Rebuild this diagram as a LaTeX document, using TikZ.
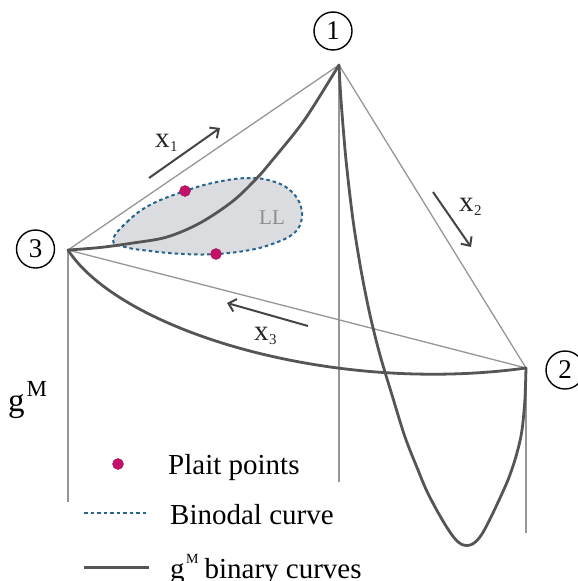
\documentclass[tikz,border=0pt]{standalone}
\usepackage{fontspec}
\setmainfont{Liberation Serif}
\usetikzlibrary{arrows.meta}
\definecolor{thinline}{RGB}{150,150,150}
\definecolor{thickline}{RGB}{85,85,85}
\definecolor{arrowcol}{RGB}{68,68,68}
\definecolor{binod}{RGB}{40,100,140}
\definecolor{llfill}{RGB}{218,220,223}
\definecolor{plait}{RGB}{196,16,104}
\definecolor{lltext}{RGB}{140,140,140}
\newcommand\xlab[1]{\fontsize{29}{29}\selectfont x\kern0.5pt\raisebox{-4pt}{\fontsize{15}{15}\selectfont #1}}
\tikzset{
  thin edge/.style={draw=thinline, line width=1.3pt},
  binary/.style={draw=thickline, line width=2.8pt, line cap=round, line join=round},
  binodal/.style={draw=binod, line width=2pt, dash pattern=on 3.5pt off 3pt},
  dirarrow/.style={draw=arrowcol, line width=2pt, -{Straight Barb[length=7pt,width=13pt]}},
  vnum/.style={circle, draw=black, line width=1.4pt, minimum size=38pt, inner sep=0pt, font=\fontsize{27}{27}\selectfont},
  plaitdot/.style={circle, fill=plait, draw=plait!80!black, line width=0.4pt, minimum size=11pt, inner sep=0pt},
  legtext/.style={anchor=base west, inner sep=0pt, font=\fontsize{29}{29}\selectfont},
  xlabel/.style={anchor=base west, inner sep=0pt, text=black!85}
}
\begin{document}
\begin{tikzpicture}[x=1pt, y=-1pt]
\useasboundingbox (0,0) rectangle (578,581);
\clip (0,0) rectangle (578,581);
% vertices
\coordinate (v1) at (339,65);
\coordinate (v2) at (526,368);
\coordinate (v3) at (68,250);
\coordinate (b1) at (339,482);
\coordinate (b2) at (526,533);
\coordinate (b3) at (68,502);
% LL region
\fill[llfill] plot[smooth cycle, tension=0.7] coordinates {(113,240) (127,222) (150,205) (185,191) (217,182) (250,178) (275,182) (292,192) (301,207) (301,222) (293,234) (275,243) (250,250) (216,254) (183,254) (150,251) (125,247)};
\node[text=lltext, font=\fontsize{21}{21}\selectfont, inner sep=0pt] (LL) at (272,218) {LL};
% thin edges
\draw[thin edge] (v1) -- (v3);
\draw[thin edge] (v1) -- (v2);
\draw[thin edge] (v3) -- (v2);
\draw[thin edge] (v1) -- (b1);
\draw[thin edge] (v3) -- (b3);
\draw[thin edge] (v2) -- (b2);
% binodal
\draw[binodal] plot[smooth cycle, tension=0.7] coordinates {(113,240) (127,222) (150,205) (185,191) (217,182) (250,178) (275,182) (292,192) (301,207) (301,222) (293,234) (275,243) (250,250) (216,254) (183,254) (150,251) (125,247)};
% binary curves
\draw[binary] plot[smooth, tension=0.55] coordinates {(68,250) (100,247.5) (133,243) (167,237) (200,223) (233,201) (257,178) (270,163) (297,130) (313,107) (339,65)};
\draw[binary] (v3) .. controls (120,330) and (330,395) .. (v2);
\draw[binary] plot[smooth, tension=0.5] coordinates {(339,65) (341,100) (346,160) (353,220) (361,270) (370,315) (380,355) (392,395) (405,437) (418,470) (427,491.5) (438,512.4) (446,526) (452,535) (457,541) (462,544.5) (467,545.5) (472,544.3) (477,540.5) (482,534) (487,525) (492,515) (500,498) (508,480) (514,463) (518,449) (521,436) (523,422) (525,398) (526,368)};
% plait points
\node[plaitdot] (p1) at (185,191) {};
\node[plaitdot] (p2) at (216,254) {};
% vertex labels
\node[vnum] (c1) at (333,31) {1};
\node[vnum] (c2) at (565,370) {2};
\node[vnum] (c3) at (35.5,249) {3};
% direction arrows
\coordinate (a1s) at (149,178); \coordinate (a1e) at (220,128);
\coordinate (a2s) at (433,192); \coordinate (a2e) at (471,247);
\coordinate (a3s) at (308,326); \coordinate (a3e) at (227,303);
\draw[dirarrow] (a1s) -- (a1e);
\draw[dirarrow] (a2s) -- (a2e);
\draw[dirarrow] (a3s) -- (a3e);
\node[xlabel] (x1) at (155,147) {\xlab{1}};
\node[xlabel] (x2) at (459,211) {\xlab{2}};
\node[xlabel] (x3) at (254,340) {\xlab{3}};
% g^M axis label
\node[anchor=base west, inner sep=0pt] (gM) at (8,411) {\fontsize{33}{33}\selectfont g\kern2pt\raisebox{15pt}{\fontsize{23}{23}\selectfont M}};
% legend
\node[plaitdot] (ldot) at (118,464) {};
\node[legtext] (lt1) at (168,474) {Plait points};
\coordinate (ld1) at (84,513); \coordinate (ld2) at (149,513);
\draw[binodal] (ld1) -- (ld2);
\node[legtext] (lt2) at (170,524) {Binodal curve};
\coordinate (ls1) at (84,567); \coordinate (ls2) at (149,567);
\draw[draw=thickline, line width=3pt] (ls1) -- (ls2);
\node[legtext] (lt3) at (170,578) {g\kern1.5pt\raisebox{14.5pt}{\fontsize{14}{14}\selectfont M}\kern6pt binary curves};
\end{tikzpicture}
\end{document}
